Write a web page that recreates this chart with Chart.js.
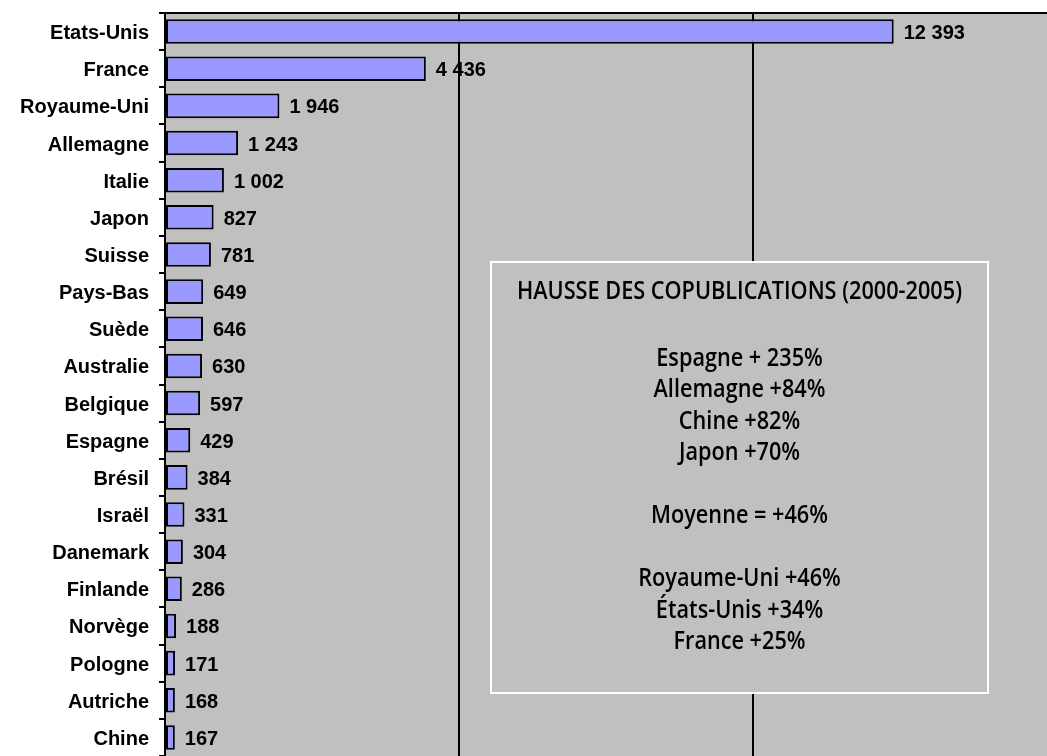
<!DOCTYPE html>
<html>
<head>
<meta charset="utf-8">
<script src="https://cdn.jsdelivr.net/npm/chart.js@4"></script>
<style>
	html, body { margin: 0; padding: 0; background: #ffffff; overflow: hidden; }
	#wrap { width: 1047px; height: 756px; }
</style>
</head>
<body>
<div id="wrap"><canvas id="copub-canvas"></canvas></div>
<script>
const COUNTRIES = [
	"Etats-Unis",
	"France",
	"Royaume-Uni",
	"Allemagne",
	"Italie",
	"Japon",
	"Suisse",
	"Pays-Bas",
	"Suède",
	"Australie",
	"Belgique",
	"Espagne",
	"Brésil",
	"Israël",
	"Danemark",
	"Finlande",
	"Norvège",
	"Pologne",
	"Autriche",
	"Chine",
];
const COPUBLICATIONS = [
	12393, 4436, 1946, 1243, 1002, 827, 781, 649, 646, 630,
	597, 429, 384, 331, 304, 286, 188, 171, 168, 167,
];
const X_TICKS = [0, 5000, 10000, 15000];
const BOX_TITLE = "HAUSSE DES COPUBLICATIONS (2000-2005)";
const BOX_LINES = [
	"",
	"Espagne + 235%",
	"Allemagne +84%",
	"Chine +82%",
	"Japon +70%",
	"",
	"Moyenne = +46%",
	"",
	"Royaume-Uni +46%",
	"États-Unis +34%",
	"France +25%",
];

const BAR_COLOR = "#9999ff";
const PLOT_BG = "#c0c0c0";
const LABEL_FAMILY = "'Liberation Sans', Arial, sans-serif";
const LABEL_FONT = "bold 20px " + LABEL_FAMILY;
const BOX_FONT = "600 25px 'Open Sans', 'Noto Sans', sans-serif";
const BOX_TITLE_WIDTH = 445;

const formatNumber = (v) => String(v).replace(/\B(?=(\d{3})+(?!\d))/g, " ");

// grey plot background
const plotBackground = {
	id: "plotBackground",
	beforeDraw: (chart) => {
		var a = chart.chartArea;
		var ctx = chart.ctx;
		ctx.save();
		ctx.fillStyle = PLOT_BG;
		ctx.fillRect(a.left, a.top, a.right - a.left, a.bottom - a.top);
		ctx.restore();
	},
};

// value labels right of each bar
const valueLabels = {
	id: "valueLabels",
	afterDatasetsDraw: (chart) => {
		var ctx = chart.ctx;
		var meta = chart.getDatasetMeta(0);
		ctx.save();
		ctx.font = LABEL_FONT;
		ctx.fillStyle = "#000000";
		ctx.textAlign = "left";
		ctx.textBaseline = "middle";
		meta.data.forEach((bar, i) => {
			ctx.fillText(formatNumber(COPUBLICATIONS[i]), bar.x + 10, bar.y + 2);
		});
		ctx.restore();
	},
};

// condensed text box in the middle of the plot
const infoBox = {
	id: "infoBox",
	afterDraw: (chart) => {
		var ctx = chart.ctx;
		var left = 491, top = 262, w = 497, h = 431;
		ctx.save();
		ctx.fillStyle = PLOT_BG;
		ctx.fillRect(left, top, w, h);
		ctx.strokeStyle = "#ffffff";
		ctx.lineWidth = 2;
		ctx.strokeRect(left, top, w, h);
		ctx.fillStyle = "#000000";
		ctx.font = BOX_FONT;
		ctx.textAlign = "center";
		ctx.textBaseline = "middle";
		var sx = BOX_TITLE_WIDTH / ctx.measureText(BOX_TITLE).width;
		var cx = left + w / 2;
		ctx.translate(cx, 0);
		ctx.scale(sx, 1);
		ctx.fillText(BOX_TITLE, 0, 292);
		BOX_LINES.forEach((line, i) => {
			if (line) ctx.fillText(line, 0, 327 + i * 31.5);
		});
		ctx.restore();
	},
};

new Chart(document.getElementById("copub-canvas"), {
	type: "bar",
	data: {
		labels: COUNTRIES,
		datasets: [
			{
				label: "Copublications",
				data: COPUBLICATIONS,
				backgroundColor: BAR_COLOR,
				borderColor: "#000000",
				borderWidth: 2,
				borderSkipped: false,
				barPercentage: 0.66,
				categoryPercentage: 1,
			},
		],
	},
	plugins: [plotBackground, valueLabels, infoBox],
	options: {
		indexAxis: "y",
		responsive: true,
		maintainAspectRatio: false,
		animation: false,
		layout: {
			padding: { top: 13, right: 0, bottom: 0, left: 0 },
		},
		plugins: {
			legend: { display: false },
			tooltip: { enabled: false },
		},
		scales: {
			x: {
				position: "top",
				min: 0,
				max: 15000,
				afterBuildTicks: (axis) => {
					axis.ticks = X_TICKS.map((v) => ({ value: v }));
				},
				afterFit: (axis) => {
					axis.height = 0;
				},
				ticks: { display: false },
				grid: {
					color: (ctx) => (ctx.tick && ctx.tick.value === 15000 ? "rgba(0,0,0,0)" : "#000000"),
					lineWidth: 2,
					drawTicks: false,
				},
				border: { display: true, color: "#000000", width: 2 },
			},
			y: {
				grid: {
					display: true,
					drawOnChartArea: false,
					drawTicks: true,
					tickLength: 6,
					color: "#000000",
					lineWidth: 2,
				},
				border: { display: true, color: "#000000", width: 2 },
				ticks: {
					color: "#000000",
					padding: 10,
					labelOffset: 2,
					font: { family: LABEL_FAMILY, size: 20, weight: "bold" },
				},
				afterFit: (axis) => {
					axis.width = 165;
					axis.paddingTop = 0;
					axis.paddingBottom = 0;
				},
			},
		},
	},
});
</script>
</body>
</html>
